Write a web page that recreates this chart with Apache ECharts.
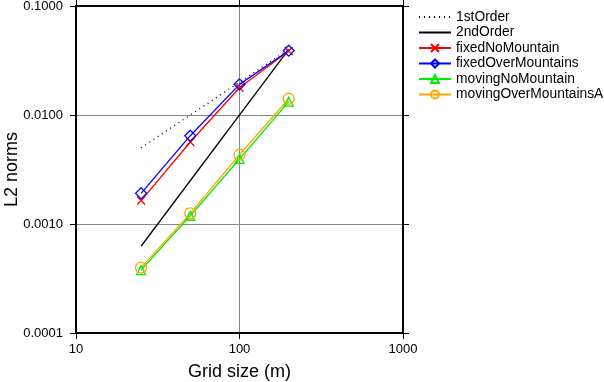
<!DOCTYPE html>
<html><head><meta charset="utf-8">
<script src="https://cdn.jsdelivr.net/npm/echarts@6/dist/echarts.min.js"></script>
<style>html,body{margin:0;padding:0;background:#fff}#c{width:604px;height:382px}</style>
</head><body><div id="c"></div>
<script>
const gridSizes = [25, 50, 100, 200];
const firstOrder = [0.005, 0.01, 0.02, 0.04];
const secondOrder = [0.000625, 0.0025, 0.01, 0.04];
const fixedNoMountain = [0.00164, 0.00565, 0.0178, 0.0387];
const fixedOverMountains = [0.00191, 0.00646, 0.0191, 0.0389];
const movingNoMountain = [0.000378, 0.00119, 0.00395, 0.01325];
const movingOverMountainsA = [0.000398, 0.00125, 0.00432, 0.0141];
const xTicks = [10, 100, 1000];
const yTicks = [0.0001, 0.001, 0.01, 0.1];

const pairs = arr => gridSizes.map((x, i) => [x, arr[i]]);
const font = 'Liberation Sans, Arial, Helvetica, sans-serif';
const crossPath = 'path://M0,0L10,10M10,0L0,10';
const clear = 'rgba(0,0,0,0)';

const chart = echarts.init(document.getElementById('c'), null, {renderer: 'canvas'});
const baseAxis = {
  type: 'log', logBase: 10,
  axisLine: {show: true, lineStyle: {color: '#000', width: 2}},
  axisTick: {show: true, inside: false, length: 6, lineStyle: {color: '#000', width: 1}},
  minorTick: {show: false},
  splitLine: {show: false}
};
function mkSeries(name, data, color, symbol, size, extra) {
  return Object.assign({
    name, type: 'line', data: pairs(data), symbol, symbolSize: size,
    showSymbol: true, animation: false,
    lineStyle: {color, width: 1.3},
    itemStyle: {color: clear, borderColor: color, borderWidth: 1.3}
  }, extra || {});
}
const hidden = {color: clear, borderColor: clear, borderWidth: 0};
chart.setOption({
  animation: false,
  grid: {left: 76, top: 6, width: 327, height: 327, show: true, borderColor: '#000', borderWidth: 2,
    containLabel: false, outerBoundsMode: 'none'},
  xAxis: [
    Object.assign({}, baseAxis, {
      min: 10, max: 1000, position: 'bottom',
      name: 'Grid size (m)', nameLocation: 'middle', nameGap: 30, nameMoveOverlap: false,
      nameTextStyle: {fontFamily: font, fontSize: 18, color: '#000'},
      axisLabel: {fontFamily: font, fontSize: 13, color: '#000', margin: 10,
        formatter: v => xTicks.includes(Math.round(v)) ? String(Math.round(v)) : ''},
      splitLine: {show: true, lineStyle: {color: '#888', width: 1}}
    }),
    Object.assign({}, baseAxis, {min: 10, max: 1000, position: 'top', axisLabel: {show: false}})
  ],
  yAxis: [
    Object.assign({}, baseAxis, {
      min: 0.0001, max: 0.1, position: 'left',
      name: 'L2 norms', nameLocation: 'middle', nameGap: 55, nameRotate: 90, nameMoveOverlap: false,
      nameTextStyle: {fontFamily: font, fontSize: 18, color: '#000'},
      axisLabel: {fontFamily: font, fontSize: 13, color: '#000', margin: 13,
        formatter: v => v.toFixed(4)},
      splitLine: {show: true, lineStyle: {color: '#888', width: 1}}
    }),
    Object.assign({}, baseAxis, {min: 0.0001, max: 0.1, position: 'right', axisLabel: {show: false}})
  ],
  legend: {
    orient: 'vertical', left: 413, top: 5, itemWidth: 32, itemHeight: 10, itemGap: 1.5,
    textStyle: {fontFamily: font, fontSize: 13.8, color: '#000', lineHeight: 14},
    data: [
      {name: '1stOrder', itemStyle: hidden},
      {name: '2ndOrder', itemStyle: hidden},
      'fixedNoMountain', 'fixedOverMountains', 'movingNoMountain', 'movingOverMountainsA']
  },
  series: [
    mkSeries('1stOrder', firstOrder, '#000', 'none', 0, {
      data: [[gridSizes[0], firstOrder[0]], [gridSizes[3], firstOrder[3]]],
      lineStyle: {color: '#000', width: 1.3, type: [1, 4]}}),
    mkSeries('2ndOrder', secondOrder, '#000', 'none', 0, {
      data: [[gridSizes[0], secondOrder[0]], [gridSizes[3], secondOrder[3]]]}),
    mkSeries('fixedNoMountain', fixedNoMountain, '#ff0000', crossPath, 8),
    mkSeries('fixedOverMountains', fixedOverMountains, '#0000ff', 'diamond', 11),
    mkSeries('movingNoMountain', movingNoMountain, '#00ee00', 'triangle', 9),
    mkSeries('movingOverMountainsA', movingOverMountainsA, '#ffa500', 'circle', 11)
  ]
});
</script></body></html>
